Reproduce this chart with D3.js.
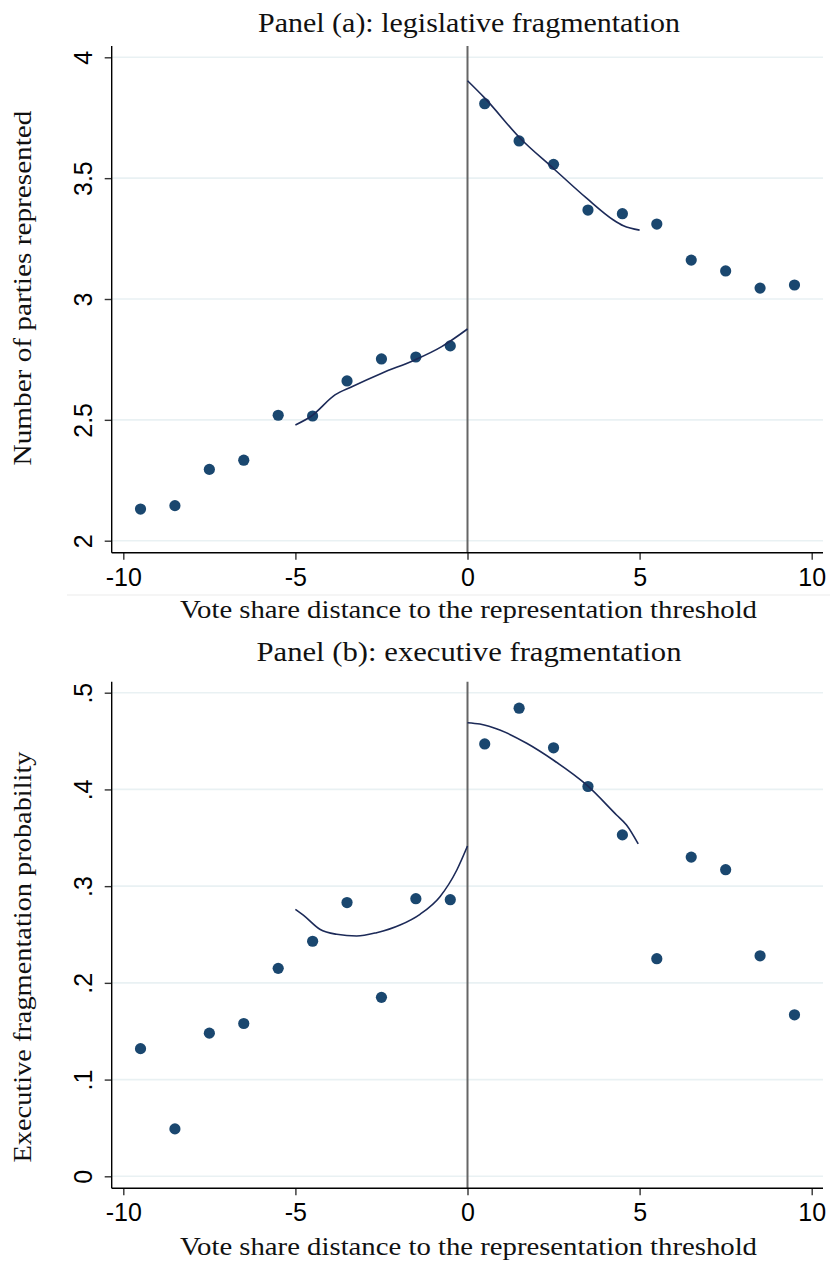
<!DOCTYPE html>
<html>
<head>
<meta charset="utf-8">
<script src="https://cdn.jsdelivr.net/npm/d3@7"></script>
<style>
  html, body { margin: 0; padding: 0; background: #ffffff; }
  svg { display: block; }
</style>
</head>
<body>
<svg id="chart" width="830" height="1266"></svg>
<script>
// Bin midpoints of the vote-share distance (percentage points)
const binCenters = [-9.5, -8.5, -7.5, -6.5, -5.5, -4.5, -3.5, -2.5, -1.5, -0.5,
                    0.5, 1.5, 2.5, 3.5, 4.5, 5.5, 6.5, 7.5, 8.5, 9.5];

// Panel (a): binned means of the number of parties represented
const partiesRepresented = [2.131, 2.145, 2.295, 2.333, 2.519, 2.516, 2.661, 2.752, 2.760, 2.806,
                            3.808, 3.654, 3.557, 3.368, 3.353, 3.310, 3.161, 3.116, 3.045, 3.058];

// Panel (b): binned means of the executive fragmentation probability
const execFragProb = [0.132, 0.049, 0.148, 0.158, 0.215, 0.243, 0.283, 0.185, 0.287, 0.286,
                      0.447, 0.484, 0.443, 0.403, 0.353, 0.225, 0.330, 0.317, 0.228, 0.167];

// Local polynomial fits on each side of the threshold
const legFitLeftX  = [-5, -4.53, -3.85, -3.36, -2.49, -1.53, -0.75, 0];
const legFitLeftY  = [2.479, 2.516, 2.603, 2.637, 2.693, 2.748, 2.803, 2.876];
const legFitRightX = [0, 0.51, 1.53, 2.49, 3.46, 4.24, 4.53, 5];
const legFitRightY = [3.903, 3.830, 3.665, 3.541, 3.417, 3.327, 3.303, 3.285];

const execFitLeftX  = [-5, -4.77, -4.29, -3.80, -3.22, -2.64, -1.96, -1.38, -0.80, -0.31, 0];
const execFitLeftY  = [0.276, 0.270, 0.2554, 0.2502, 0.2484, 0.2519, 0.2598, 0.2709, 0.2891, 0.3167, 0.3415];
const execFitRightX = [0, 0.36, 0.94, 1.72, 2.49, 3.46, 4.33, 4.62, 4.96];
const execFitRightY = [0.469, 0.4676, 0.4614, 0.4477, 0.4304, 0.4046, 0.3736, 0.3632, 0.3436];

// Axis ticks and labels
const xTicks = [-10, -5, 0, 5, 10];
const xTickLabels = ["-10", "-5", "0", "5", "10"];
const legTicks = [2, 2.5, 3, 3.5, 4];
const legTickLabels = ["2", "2.5", "3", "3.5", "4"];
const execTicks = [0, 0.1, 0.2, 0.3, 0.4, 0.5];
const execTickLabels = ["0", ".1", ".2", ".3", ".4", ".5"];

const xTitle = "Vote share distance to the representation threshold";

const svg = d3.select("#chart");

const pointColor = "#1a476f";
const fitColor = "#1c2a58";
const gridColor = "#e9f1f3";
const serif = "'Liberation Serif', 'Times New Roman', serif";
const sans = "'Liberation Sans', Arial, Helvetica, sans-serif";

function drawPanel(cfg) {
  const g = svg.append("g");
  const x = d3.scaleLinear().domain([-10, 10]).range([123.3, 811.7]);
  const y = d3.scaleLinear().domain(cfg.yDomain).range(cfg.yRange);

  // horizontal grid lines
  g.append("g").selectAll("line").data(cfg.yTicks).join("line")
    .attr("x1", cfg.left).attr("x2", cfg.right)
    .attr("y1", d => y(d)).attr("y2", d => y(d))
    .attr("stroke", gridColor).attr("stroke-width", 1.6);

  // threshold line at zero
  g.append("line")
    .attr("x1", x(0)).attr("x2", x(0))
    .attr("y1", cfg.top).attr("y2", cfg.bottom)
    .attr("stroke", "#666").attr("stroke-width", 2);

  // binned scatter
  g.append("g").selectAll("circle").data(binCenters).join("circle")
    .attr("cx", d => x(d))
    .attr("cy", (d, i) => y(cfg.values[i]))
    .attr("r", 5.6)
    .attr("fill", pointColor);

  // fitted curves
  const line = d3.line()
    .x(d => x(d[0])).y(d => y(d[1]))
    .curve(d3.curveMonotoneX);
  [[cfg.fitLX, cfg.fitLY], [cfg.fitRX, cfg.fitRY]].forEach(([fx, fy]) => {
    g.append("path")
      .datum(fx.map((v, i) => [v, fy[i]]))
      .attr("d", line)
      .attr("fill", "none")
      .attr("stroke", fitColor)
      .attr("stroke-width", 1.6);
  });

  // y axis
  const yAxis = d3.axisLeft(y)
    .tickValues(cfg.yTicks)
    .tickFormat((d, i) => cfg.yTickLabels[i])
    .tickSize(7).tickSizeOuter(0);
  const ya = g.append("g").attr("transform", `translate(${cfg.left},0)`).call(yAxis);
  ya.select(".domain").remove();
  ya.selectAll(".tick line").attr("stroke", "#333").attr("stroke-width", 1.4);
  ya.selectAll(".tick text")
    .attr("transform", "rotate(-90)")
    .attr("x", 0).attr("y", -20).attr("dy", 0)
    .attr("text-anchor", "middle")
    .attr("fill", "#000")
    .style("font-family", sans).style("font-size", "25px");
  g.append("line")
    .attr("x1", cfg.left).attr("x2", cfg.left)
    .attr("y1", cfg.top).attr("y2", cfg.bottom)
    .attr("stroke", "#000").attr("stroke-width", 1.4);

  // x axis
  const xAxis = d3.axisBottom(x)
    .tickValues(xTicks)
    .tickFormat((d, i) => xTickLabels[i])
    .tickSize(7).tickSizeOuter(0);
  const xa = g.append("g").attr("transform", `translate(0,${cfg.bottom})`).call(xAxis);
  xa.select(".domain").remove();
  xa.selectAll(".tick line").attr("stroke", "#333").attr("stroke-width", 1.4);
  xa.selectAll(".tick text")
    .attr("y", 33).attr("dy", 0)
    .attr("fill", "#000")
    .style("font-family", sans).style("font-size", "25px");
  g.append("line")
    .attr("x1", cfg.left).attr("x2", cfg.right)
    .attr("y1", cfg.bottom).attr("y2", cfg.bottom)
    .attr("stroke", "#000").attr("stroke-width", 1.4);

  // titles
  g.append("text")
    .attr("x", 469).attr("y", cfg.titleY)
    .attr("text-anchor", "middle")
    .attr("textLength", cfg.titleLen).attr("lengthAdjust", "spacingAndGlyphs")
    .style("font-family", serif).style("font-size", "27px").attr("fill", "#111")
    .text(cfg.title);
  g.append("text")
    .attr("x", 468.5).attr("y", cfg.xTitleY)
    .attr("text-anchor", "middle")
    .attr("textLength", 577).attr("lengthAdjust", "spacingAndGlyphs")
    .style("font-family", serif).style("font-size", "25px").attr("fill", "#111")
    .text(xTitle);
  g.append("text")
    .attr("transform", `translate(31,${cfg.yTitleCenter}) rotate(-90)`)
    .attr("text-anchor", "middle")
    .attr("textLength", cfg.yTitleLen).attr("lengthAdjust", "spacingAndGlyphs")
    .style("font-family", serif).style("font-size", "25px").attr("fill", "#111")
    .text(cfg.yTitle);
}

drawPanel({
  title: "Panel (a): legislative fragmentation", titleY: 31.5, titleLen: 422,
  yTitle: "Number of parties represented", yTitleCenter: 288, yTitleLen: 355,
  xTitleY: 618,
  left: 111.7, right: 823, top: 46, bottom: 552.7,
  yDomain: [2, 4], yRange: [540.7, 57.3],
  yTicks: legTicks, yTickLabels: legTickLabels,
  values: partiesRepresented,
  fitLX: legFitLeftX, fitLY: legFitLeftY, fitRX: legFitRightX, fitRY: legFitRightY
});

// thin rule separating the two panels
svg.append("line")
  .attr("x1", 67).attr("x2", 830).attr("y1", 595).attr("y2", 595)
  .attr("stroke", "#ececec").attr("stroke-width", 1.2);

drawPanel({
  title: "Panel (b): executive fragmentation", titleY: 661, titleLen: 425,
  yTitle: "Executive fragmentation probability", yTitleCenter: 957, yTitleLen: 411,
  xTitleY: 1255,
  left: 111.7, right: 823, top: 681.7, bottom: 1188.3,
  yDomain: [0, 0.5], yRange: [1176.3, 692.7],
  yTicks: execTicks, yTickLabels: execTickLabels,
  values: execFragProb,
  fitLX: execFitLeftX, fitLY: execFitLeftY, fitRX: execFitRightX, fitRY: execFitRightY
});
</script>
</body>
</html>
